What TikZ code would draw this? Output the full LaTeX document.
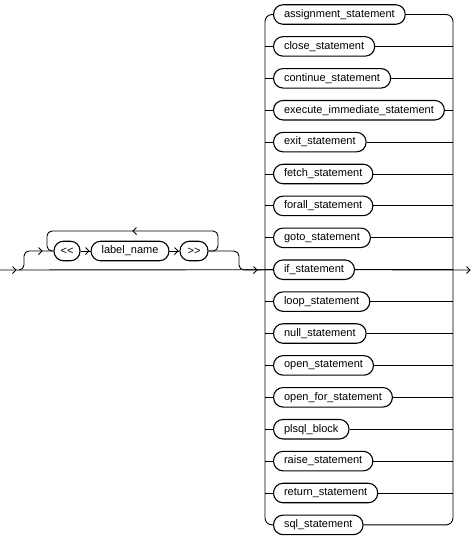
\documentclass[tikz,border=0pt]{standalone}
\usepackage{fontspec}
\setmainfont{Liberation Sans}
\begin{document}
\begin{tikzpicture}[x=1pt,y=-1pt,
  line width=0.9pt,
  stm/.style={draw, line width=1.1pt, rounded corners=9.5pt, minimum height=19.5pt,
    inner xsep=10.5pt, inner ysep=0pt, anchor=west, font=\fontsize{11}{13}\selectfont},
  sym/.style={stm, anchor=center, inner xsep=2pt},
  chev/.pic={\draw[line width=0.9pt] (-3.5,-3.5) -- (0,0) -- (-3.5,3.5);},
  chevl/.pic={\draw[line width=0.9pt] (3.5,-3.5) -- (0,0) -- (3.5,3.5);}]
\useasboundingbox (0,0) rectangle (471,541);

% statement column
\foreach \t [count=\i] in {assignment\_statement, close\_statement, continue\_statement,
  execute\_immediate\_statement, exit\_statement, fetch\_statement, forall\_statement,
  goto\_statement, if\_statement, loop\_statement, null\_statement, open\_statement,
  open\_for\_statement, plsql\_block, raise\_statement, return\_statement, sql\_statement}
  \node[stm] (s\i) at (273,{14.5+(\i-1)*31.9}) {\t};

\coordinate (L) at (265,270);
\coordinate (R) at (453,270);
\coordinate (in) at (0,270);
\coordinate (out) at (470,270);

% rails
\draw[rounded corners=7pt] (s1.west) -| (L);
\draw[rounded corners=7pt] (s17.west) -| (L);
\draw[rounded corners=7pt] (s1.east) -| (R);
\draw[rounded corners=7pt] (s17.east) -| (R);
\foreach \i in {2,...,16}{
  \draw (s\i.west) -- (s\i.west -| L);
  \draw (s\i.east) -- (s\i.east -| R);
}

% main line
\draw (in) -- (s9.west);
\draw (s9.east) -- (out);

% label part
\node[sym, minimum width=26pt] (lt) at (67,251) {<\kern0pt<};
\node[stm, anchor=center] (ln) at (130,251) {label\_name};
\node[sym, minimum width=28pt] (gt) at (194,251) {>\kern0pt>};

\coordinate (b1) at (19,270);
\coordinate (up) at (24,251);
\coordinate (lpL) at (47,231);
\coordinate (lpR) at (218,231);
\coordinate (dn) at (239,270);

\draw[rounded corners=5pt] (b1) -| (up) -- (lt.west);
\draw (lt.east) -- (ln.west);
\draw (ln.east) -- (gt.west);
\draw[rounded corners=5pt] (gt.east) -| (lpR) -| (lt.west -| lpL) -- (lt.west);
\draw[rounded corners=5pt] (gt.east) -| (dn) -- (s9.west);

% arrowheads
\pic at (16,270) {chev};
\pic at (42,251) {chev};
\pic at (89,251) {chev};
\pic at (178,251) {chev};
\pic at (133,231) {chevl};
\pic at (257,270) {chev};
\pic at (470,270) {chev};
\end{tikzpicture}
\end{document}
